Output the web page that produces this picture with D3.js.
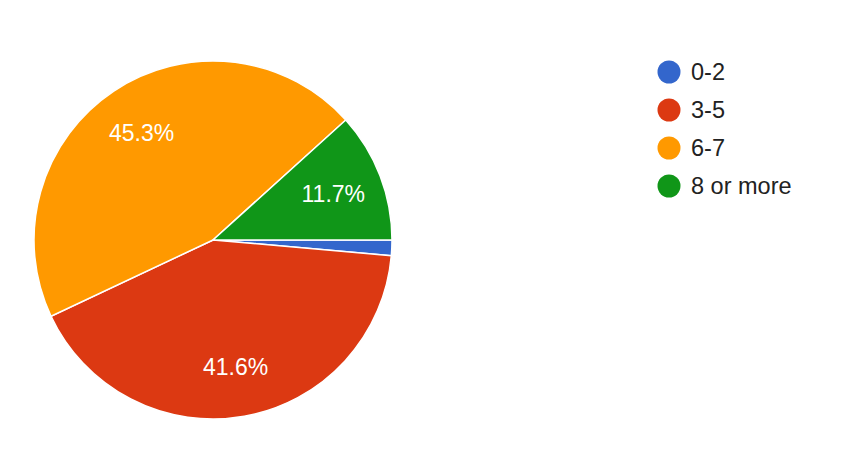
<!DOCTYPE html>
<html>
<head>
<meta charset="utf-8">
<script src="https://cdn.jsdelivr.net/npm/d3@7"></script>
<style>
html,body{margin:0;padding:0;background:#fff;}
svg{display:block;}
</style>
</head>
<body>
<svg id="chart" width="858" height="458"></svg>
<script>
const categories = ["0-2", "3-5", "6-7", "8 or more"];
const values = [1.4, 41.6, 45.3, 11.7];
const colors = ["#3366cc", "#dc3912", "#ff9900", "#109618"];

const svg = d3.select("#chart");
const cx = 213, cy = 240, radius = 179;
const fontFam = "Arial, 'Liberation Sans', sans-serif";

const data = categories.map((c, i) => ({cat: c, value: values[i], color: colors[i]}));
const pie = d3.pie().sort(null).value(d => d.value)
  .startAngle(Math.PI / 2).endAngle(Math.PI / 2 + 2 * Math.PI);
const arcs = pie(data);
const arc = d3.arc().innerRadius(0).outerRadius(radius);
const labelArc = d3.arc().innerRadius(radius * 0.72).outerRadius(radius * 0.72);

const g = svg.append("g").attr("transform", `translate(${cx},${cy})`);
g.selectAll("path").data(arcs).join("path")
  .attr("d", arc)
  .attr("fill", d => d.data.color)
  .attr("stroke", "#fff")
  .attr("stroke-width", 1.5);

g.selectAll("text").data(arcs.filter(d => d.data.value >= 5)).join("text")
  .attr("transform", d => `translate(${labelArc.centroid(d)})`)
  .attr("text-anchor", "middle")
  .attr("dy", "0.35em")
  .attr("fill", "#fff")
  .attr("font-family", fontFam)
  .attr("font-size", 23)
  .text(d => d.data.value.toFixed(1) + "%");

const legend = svg.append("g").attr("transform", "translate(669,72)");
const rowH = 38;
const items = legend.selectAll("g").data(data).join("g")
  .attr("transform", (d, i) => `translate(0,${i * rowH})`);
items.append("circle").attr("r", 11.5).attr("fill", d => d.color);
items.append("text")
  .attr("x", 22)
  .attr("dy", "0.36em")
  .attr("fill", "#222")
  .attr("font-family", fontFam)
  .attr("font-size", 23.5)
  .text(d => d.cat);
</script>
</body>
</html>
